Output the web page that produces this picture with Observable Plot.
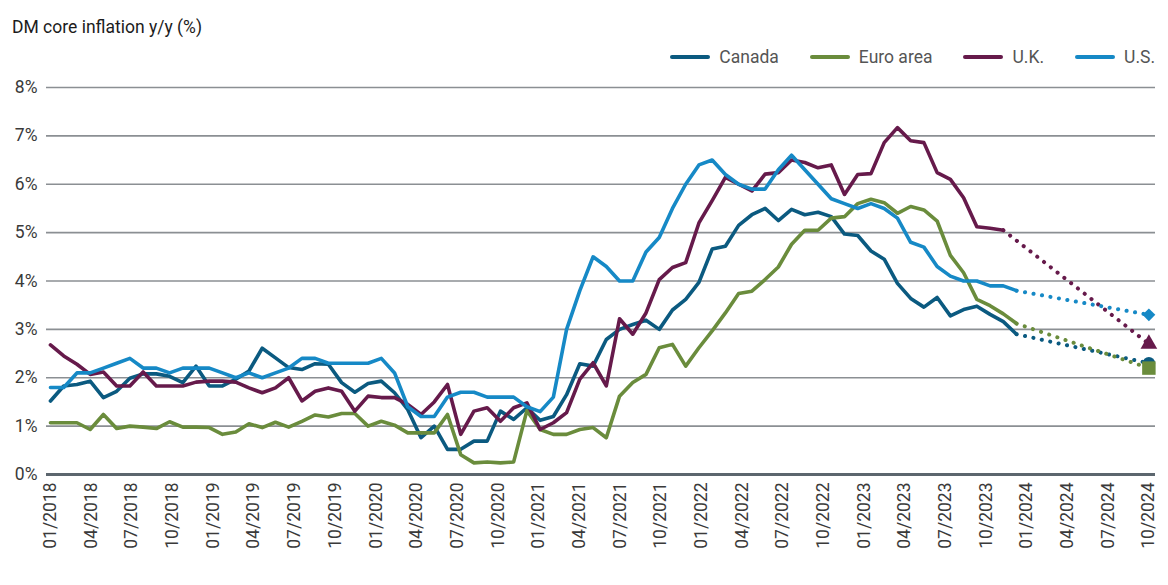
<!DOCTYPE html>
<html>
<head>
<meta charset="utf-8">
<script src="https://cdn.jsdelivr.net/npm/d3@7"></script>
<script src="https://cdn.jsdelivr.net/npm/@observablehq/plot@0.6"></script>
<style>
  body { margin: 0; background: #fff; font-family: Roboto, "Liberation Sans", sans-serif; }
  #wrap { position: relative; width: 1168px; height: 585px; overflow: hidden; }
  #header { position: relative; height: 72px; }
  #title { position: absolute; left: 12px; top: 17px; font-size: 17.5px; color: #1c1c1c; }
  #legend { position: absolute; right: 13px; top: 47px; display: flex; align-items: center; font-size: 17.5px; color: #555; }
  .item { display: flex; align-items: center; margin-left: 31px; }
  .sw { width: 40px; height: 4px; border-radius: 2px; margin-right: 9px; }
  #chart svg { display: block; }
</style>
</head>
<body>
<div id="wrap">
  <div id="header">
    <div id="title">DM core inflation y/y (%)</div>
    <div id="legend"></div>
  </div>
  <div id="chart"></div>
</div>
<script>
// ---- data (monthly, starting 01/2018) ----
const seriesNames = ["Canada", "Euro area", "U.K.", "U.S."];
const seriesColors = ["#0b5a80", "#6a8c3c", "#661a4b", "#1689c6"];

const canada = [
  1.52, 1.83, 1.86, 1.93, 1.59, 1.72, 1.99, 2.08, 2.08, 2.03, 1.90, 2.24,
  1.83, 1.83, 1.97, 2.14, 2.61, 2.41, 2.21, 2.17, 2.29, 2.28, 1.90, 1.70,
  1.88, 1.93, 1.69, 1.34, 0.76, 1.00, 0.52, 0.52, 0.69, 0.69, 1.31, 1.14,
  1.38, 1.12, 1.20, 1.65, 2.29, 2.24, 2.79, 3.00, 3.10, 3.19, 3.00, 3.40,
  3.62, 3.97, 4.66, 4.72, 5.15, 5.37, 5.50, 5.25, 5.48, 5.37, 5.42, 5.33,
  4.97, 4.94, 4.62, 4.45, 3.95, 3.64, 3.46, 3.66, 3.28, 3.41, 3.48, 3.31,
  3.16, 2.90
];
const euro = [
  1.07, 1.07, 1.07, 0.93, 1.24, 0.95, 1.00, 0.98, 0.95, 1.09, 0.98, 0.98,
  0.97, 0.83, 0.88, 1.05, 0.97, 1.08, 0.98, 1.10, 1.23, 1.19, 1.26, 1.26,
  1.00, 1.10, 1.02, 0.86, 0.86, 0.86, 1.24, 0.41, 0.24, 0.26, 0.24, 0.26,
  1.32, 0.93, 0.83, 0.83, 0.93, 0.97, 0.76, 1.62, 1.90, 2.07, 2.62, 2.69,
  2.24, 2.62, 2.97, 3.34, 3.74, 3.79, 4.03, 4.29, 4.76, 5.05, 5.05, 5.30,
  5.33, 5.60, 5.69, 5.62, 5.40, 5.54, 5.47, 5.24, 4.53, 4.17, 3.62, 3.49,
  3.32, 3.12
];
const uk = [
  2.68, 2.45, 2.28, 2.07, 2.12, 1.83, 1.83, 2.12, 1.83, 1.83, 1.83, 1.91,
  1.93, 1.93, 1.91, 1.79, 1.69, 1.79, 2.00, 1.52, 1.72, 1.79, 1.72, 1.31,
  1.62, 1.59, 1.59, 1.45, 1.24, 1.50, 1.86, 0.83, 1.31, 1.38, 1.10, 1.38,
  1.48, 0.93, 1.07, 1.28, 1.97, 2.31, 1.83, 3.22, 2.90, 3.34, 4.03, 4.28,
  4.38, 5.20, 5.66, 6.14, 6.00, 5.86, 6.21, 6.24, 6.50, 6.45, 6.34, 6.40,
  5.79, 6.20, 6.22, 6.86, 7.17, 6.90, 6.86, 6.24, 6.10, 5.72, 5.12, 5.09,
  5.05
];
const us = [
  1.8, 1.8, 2.1, 2.1, 2.2, 2.3, 2.4, 2.2, 2.2, 2.1, 2.2, 2.2,
  2.2, 2.1, 2.0, 2.1, 2.0, 2.1, 2.2, 2.4, 2.4, 2.3, 2.3, 2.3,
  2.3, 2.4, 2.1, 1.4, 1.2, 1.2, 1.6, 1.7, 1.7, 1.6, 1.6, 1.6,
  1.4, 1.3, 1.6, 3.0, 3.8, 4.5, 4.3, 4.0, 4.0, 4.6, 4.9, 5.5,
  6.0, 6.4, 6.5, 6.2, 6.0, 5.9, 5.9, 6.3, 6.6, 6.3, 6.0, 5.7,
  5.6, 5.5, 5.6, 5.5, 5.3, 4.8, 4.7, 4.3, 4.1, 4.0, 4.0, 3.9,
  3.9, 3.8
];
// forecast values at the end of the projection (month index from 01/2018)
const forecastMonth = 83;
const forecasts = [2.3, 2.2, 2.7, 3.3];
const forecastSymbols = ["circle", "square", "triangle", "diamond2"];

const yTicks = [0, 1, 2, 3, 4, 5, 6, 7, 8];
const xTickLabels = [
  "01/2018", "04/2018", "07/2018", "10/2018",
  "01/2019", "04/2019", "07/2019", "10/2019",
  "01/2020", "04/2020", "07/2020", "10/2020",
  "01/2021", "04/2021", "07/2021", "10/2021",
  "01/2022", "04/2022", "07/2022", "10/2022",
  "01/2023", "04/2023", "07/2023", "10/2023",
  "01/2024", "04/2024", "07/2024", "10/2024"
];

// ---- build tables ----
const allValues = [canada, euro, uk, us];
const actual = [];
const projection = [];
const endPoints = [];
allValues.forEach((vals, s) => {
  vals.forEach((v, i) => actual.push({series: seriesNames[s], i, v}));
  const last = vals.length - 1;
  projection.push({series: seriesNames[s], i: last, v: vals[last]});
  projection.push({series: seriesNames[s], i: forecastMonth, v: forecasts[s]});
  endPoints.push({series: seriesNames[s], i: forecastMonth, v: forecasts[s], symbol: forecastSymbols[s], color: seriesColors[s]});
});
// tick labels spread evenly across the category range
const tickPos = xTickLabels.map((_, k) => k * forecastMonth / (xTickLabels.length - 1));
const labelAt = new Map(tickPos.map((p, k) => [p, xTickLabels[k]]));

// ---- legend ----
const legend = document.getElementById("legend");
seriesNames.forEach((n, s) => {
  const it = document.createElement("div");
  it.className = "item";
  it.innerHTML = `<span class="sw" style="background:${seriesColors[s]}"></span><span>${n}</span>`;
  legend.appendChild(it);
});

const markerR = {"circle": 6.2, "square": 7.6, "triangle": 6.2, "diamond2": 5.8};

const chart = Plot.plot({
  width: 1168,
  height: 513,
  marginLeft: 46,
  marginRight: 13,
  marginTop: 15,
  marginBottom: 111,
  style: {fontFamily: "Roboto, 'Liberation Sans', sans-serif", background: "#fff"},
  x: {type: "linear", domain: [-0.3, 83.5], label: null},
  y: {domain: [0, 8], label: null},
  color: {domain: seriesNames, range: seriesColors},
  marks: [
    Plot.ruleY(yTicks.filter(d => d > 0), {stroke: "#8b8f93", strokeWidth: 1.6}),
    Plot.ruleY([0], {stroke: "#5c666e", strokeWidth: 3}),
    Plot.line(projection, {x: "i", y: "v", z: "series", stroke: "series", strokeWidth: 4,
      strokeDasharray: "0.1 8.5", strokeLinecap: "round"}),
    Plot.line(actual, {x: "i", y: "v", z: "series", stroke: "series", strokeWidth: 3.6,
      strokeLinejoin: "round"}),
    ...endPoints.map(p => Plot.dot([p], {x: "i", y: "v", symbol: p.symbol, fill: p.color,
      stroke: "none", r: markerR[p.symbol]})),
    Plot.axisY(yTicks, {tickFormat: d => d + "%", tickSize: 0, tickPadding: 9, fontSize: 17.5,
      color: "#3a3a3a", label: null}),
    Plot.axisX(tickPos, {tickFormat: d => labelAt.get(d), tickRotate: -90, tickSize: 0,
      tickPadding: 8, fontSize: 17.5, color: "#3a3a3a", label: null})
  ]
});
document.getElementById("chart").appendChild(chart);
</script>
</body>
</html>
